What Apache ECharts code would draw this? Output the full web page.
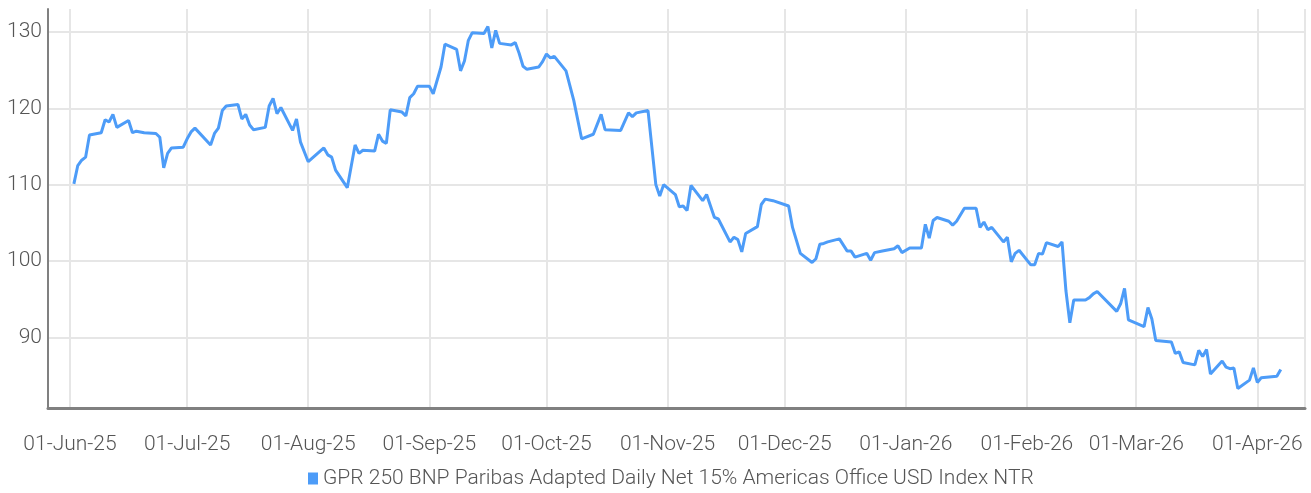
<!DOCTYPE html>
<html style="height: 100%">
<head>
	<meta charset="utf-8">
	<title></title>
	<script type="text/javascript" src="https://cdn.jsdelivr.net/npm/echarts@6/dist/echarts.min.js"></script>
</head>
<body style="height: 100%; margin: 0">
<div id="container" style="height: 100%"></div>
<script type="text/javascript">
	var seriesName = 'GPR 250 BNP Paribas Adapted Daily Net 15% Americas Office USD Index NTR';
	var monthNames = ['Jan','Feb','Mar','Apr','May','Jun','Jul','Aug','Sep','Oct','Nov','Dec'];

	var dates = [
		'2025-06-02','2025-06-03','2025-06-04','2025-06-05','2025-06-06','2025-06-09','2025-06-10','2025-06-11','2025-06-12','2025-06-13',
		'2025-06-16','2025-06-17','2025-06-18','2025-06-20','2025-06-23','2025-06-24','2025-06-25','2025-06-26','2025-06-27','2025-06-30',
		'2025-07-01','2025-07-02','2025-07-03','2025-07-07','2025-07-08','2025-07-09','2025-07-10','2025-07-11','2025-07-14','2025-07-15',
		'2025-07-16','2025-07-17','2025-07-18','2025-07-21','2025-07-22','2025-07-23','2025-07-24','2025-07-25','2025-07-28','2025-07-29',
		'2025-07-30','2025-08-01','2025-08-05','2025-08-06','2025-08-07','2025-08-08','2025-08-11','2025-08-13','2025-08-14','2025-08-15',
		'2025-08-18','2025-08-19','2025-08-20','2025-08-21','2025-08-22','2025-08-25','2025-08-26','2025-08-27','2025-08-28','2025-08-29',
		'2025-09-01','2025-09-02','2025-09-04','2025-09-05','2025-09-08','2025-09-09','2025-09-10','2025-09-11','2025-09-12','2025-09-15',
		'2025-09-16','2025-09-17','2025-09-18','2025-09-19','2025-09-22','2025-09-23','2025-09-24','2025-09-25','2025-09-26','2025-09-29',
		'2025-09-30','2025-10-01','2025-10-02','2025-10-03','2025-10-06','2025-10-08','2025-10-10','2025-10-13','2025-10-15','2025-10-16',
		'2025-10-20','2025-10-22','2025-10-23','2025-10-24','2025-10-27','2025-10-29','2025-10-30','2025-10-31','2025-11-03','2025-11-04',
		'2025-11-05','2025-11-06','2025-11-07','2025-11-10','2025-11-11','2025-11-13','2025-11-14','2025-11-17','2025-11-18','2025-11-19',
		'2025-11-20','2025-11-21','2025-11-24','2025-11-25','2025-11-26','2025-11-28','2025-12-02','2025-12-03','2025-12-05','2025-12-08',
		'2025-12-09','2025-12-10','2025-12-11','2025-12-12','2025-12-15','2025-12-17','2025-12-18','2025-12-19','2025-12-22','2025-12-23',
		'2025-12-24','2025-12-26','2025-12-29','2025-12-30','2025-12-31','2026-01-02','2026-01-05','2026-01-06','2026-01-07','2026-01-08',
		'2026-01-09','2026-01-12','2026-01-13','2026-01-14','2026-01-16','2026-01-19','2026-01-20','2026-01-21','2026-01-22','2026-01-23',
		'2026-01-26','2026-01-27','2026-01-28','2026-01-29','2026-01-30','2026-02-02','2026-02-03','2026-02-04','2026-02-05','2026-02-06',
		'2026-02-09','2026-02-10','2026-02-11','2026-02-12','2026-02-13','2026-02-16','2026-02-17','2026-02-18','2026-02-19','2026-02-24',
		'2026-02-25','2026-02-26','2026-02-27','2026-03-03','2026-03-04','2026-03-05','2026-03-06','2026-03-10','2026-03-11','2026-03-12',
		'2026-03-13','2026-03-16','2026-03-17','2026-03-18','2026-03-19','2026-03-20','2026-03-23','2026-03-24','2026-03-25','2026-03-26',
		'2026-03-27','2026-03-30','2026-03-31','2026-04-01','2026-04-02','2026-04-06','2026-04-07'
	];
	var values = [
		110.1,112.5,113.2,113.6,116.5,116.8,118.5,118.2,119.2,117.5,
		118.4,116.8,117.0,116.8,116.7,116.2,112.2,114.1,114.8,114.9,
		116.0,116.9,117.4,115.2,116.7,117.4,119.7,120.3,120.5,118.6,
		119.2,117.8,117.2,117.5,120.3,121.3,119.3,120.1,117.1,118.6,
		115.6,113.0,114.8,113.9,113.6,111.9,109.6,115.2,114.1,114.5,
		114.4,116.6,115.7,115.4,119.8,119.5,119.0,121.4,121.9,122.9,
		122.9,121.9,125.4,128.4,127.7,124.9,126.2,128.9,129.9,129.8,
		130.7,127.9,130.2,128.5,128.3,128.6,127.2,125.5,125.1,125.4,
		126.1,127.1,126.6,126.8,124.9,121.0,116.0,116.6,119.2,117.2,
		117.1,119.4,118.9,119.4,119.7,110.0,108.5,110.0,108.7,107.1,
		107.2,106.6,109.9,107.9,108.7,105.7,105.5,102.5,103.1,102.8,
		101.2,103.6,104.5,107.4,108.1,107.9,107.2,104.4,101.0,99.8,
		100.3,102.2,102.3,102.5,102.9,101.3,101.3,100.5,101.0,100.1,
		101.1,101.3,101.6,102.0,101.1,101.7,101.7,104.8,103.0,105.3,
		105.7,105.2,104.7,105.2,106.9,106.9,104.4,105.1,104.1,104.4,
		102.5,103.1,99.9,101.0,101.4,99.5,99.5,101.0,100.9,102.4,
		101.9,102.5,96.1,91.9,94.9,94.9,95.2,95.7,96.0,93.4,
		94.4,96.4,92.3,91.4,93.9,92.4,89.6,89.4,87.9,88.1,
		86.7,86.4,88.3,87.5,88.4,85.2,86.9,86.1,85.9,86.0,
		83.3,84.4,86.0,84.1,84.7,84.9,85.8
	];

	var font = "Roboto, 'Liberation Sans', sans-serif";

	function pad(n) { return n < 10 ? '0' + n : '' + n; }

	var points = [];
	for (var i = 0; i < dates.length; i++) {
		points.push([dates[i], values[i]]);
	}

	var myChart = echarts.init(document.getElementById('container'));
	var option = {
		animation: false,
		grid: { left: 48, right: 6, top: 9, bottom: 85 },
		legend: {
			left: 303,
			top: 463,
			icon: 'rect',
			itemWidth: 10,
			itemHeight: 12,
			itemGap: 4,
			textStyle: { fontFamily: font, fontWeight: 300, fontSize: 21, color: '#555' },
			data: [seriesName]
		},
		xAxis: {
			type: 'time',
			min: '2025-05-26T09:00:00',
			max: '2026-04-13T05:00:00',
			splitNumber: 11,
			minInterval: 28 * 86400000,
			maxInterval: 31 * 86400000,
			axisLine: { lineStyle: { color: '#808080', width: 3 } },
			axisTick: { show: false },
			splitLine: { show: true, lineStyle: { color: '#e6e6e6', width: 2 } },
			axisLabel: {
				margin: 26,
				fontFamily: font,
				fontWeight: 300,
				fontSize: 21,
				color: '#555',
				formatter: function (v) {
					var d = new Date(v);
					return pad(d.getDate()) + '-' + monthNames[d.getMonth()] + '-' + String(d.getFullYear()).slice(2);
				}
			}
		},
		yAxis: {
			type: 'value',
			min: 80.75,
			max: 133,
			splitNumber: 5,
			axisLine: { show: true, lineStyle: { color: '#808080', width: 2 } },
			axisTick: { show: false },
			splitLine: { show: true, showMinLine: false, showMaxLine: false, lineStyle: { color: '#e6e6e6', width: 2 } },
			axisLabel: {
				margin: 6,
				showMinLabel: false,
				showMaxLabel: false,
				fontFamily: font,
				fontWeight: 300,
				fontSize: 21,
				color: '#555'
			}
		},
		series: [{
			name: seriesName,
			type: 'line',
			data: points,
			showSymbol: false,
			color: '#4d9cf8',
			lineStyle: { width: 3, color: '#4d9cf8' }
		}]
	};
	myChart.setOption(option);
</script>
</body>
</html>
